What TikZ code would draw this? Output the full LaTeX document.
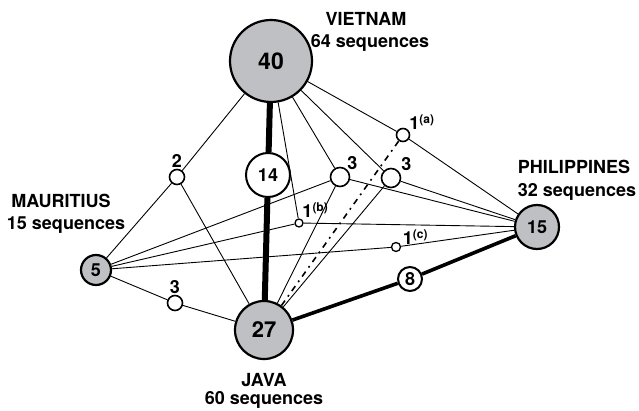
\documentclass[tikz,border=0pt]{standalone}
\usepackage{fontspec}
\setmainfont{TeX Gyre Heros}
\usepackage{tikz}
\usetikzlibrary{positioning}
\definecolor{nodegray}{RGB}{191,192,195}
\newcommand{\supnote}[1]{\raisebox{6pt}{\fontsize{12}{12}\selectfont(#1)}}

\begin{document}
\begin{tikzpicture}[x=1pt, y=1pt, node distance=9pt,
    every node/.style={inner sep=0pt, font=\bfseries},
    country/.style={draw, circle, line width=2.2pt, fill=nodegray},
    shared/.style={draw, circle, line width=2pt, fill=white},
    ring/.style={draw, circle, line width=1.6pt, fill=white},
    link/.style={line width=0.9pt},
    fat/.style={line width=6pt},
    bold link/.style={line width=3.6pt},
    dashdot/.style={line width=1.6pt, dash pattern=on 6pt off 5pt on 1.8pt off 5pt},
    caption/.style={font=\fontsize{18}{18}\selectfont\bfseries},
    tag/.style={font=\fontsize{18}{18}\selectfont\bfseries}]
        \useasboundingbox (0,0) rectangle (639,410);

        % Countries, with the number of haplotypes found only there
        \node (vietnam) [country, minimum size=82pt, font=\fontsize{23}{23}\selectfont\bfseries] at (271,349) {40};
        \node (java) [country, minimum size=58pt, font=\fontsize{22}{22}\selectfont\bfseries] at (264,80) {27};
        \node (mauritius) [country, minimum size=30pt, font=\fontsize{18}{18}\selectfont\bfseries] at (96,140) {5};
        \node (philippines) [country, minimum size=44pt, font=\fontsize{18}{18}\selectfont\bfseries] at (537,183) {15};

        \node (vnname) [caption] at (366,391) {VIETNAM};
        \node (vncount) [caption, below=of vnname, xshift=4pt] {64 sequences};
        \node (muname) [caption] at (61,209) {MAURITIUS};
        \node (mucount) [caption, below=of muname, xshift=5pt] {15 sequences};
        \node (phname) [caption] at (574,243) {PHILIPPINES};
        \node (phcount) [caption, below=of phname, xshift=3pt] {32 sequences};
        \node (jvname) [caption] at (264,30) {JAVA};
        \node (jvcount) [caption, below=4pt of jvname] {60 sequences};

        % Shared haplotypes
        \node (s14) [shared, minimum size=44pt, font=\fontsize{18}{18}\selectfont\bfseries] at (268,235) {14};
        \node (s8) [shared, minimum size=24pt, font=\fontsize{18}{18}\selectfont\bfseries] at (410,131) {8};
        \node (s2) [ring, minimum size=15pt] at (177,233) {};
        \node (s3a) [ring, minimum size=15pt] at (175,107) {};
        \node (s3b) [ring, minimum size=19pt] at (340,233) {};
        \node (s3c) [ring, minimum size=19pt] at (391,232) {};
        \node (s1a) [ring, minimum size=13pt] at (403,275) {};
        \node (s1b) [ring, minimum size=8pt, line width=1.3pt] at (299,187) {};
        \node (s1c) [ring, minimum size=9pt, line width=1.3pt] at (396,163) {};

        \node (t2) [tag, above=1pt of s2] {2};
        \node (t3a) [tag, above=1pt of s3a] {3};
        \node (t3b) [tag, above right=0pt of s3b] {3};
        \node (t3c) [tag, above right=0pt and 3pt of s3c] {3};
        \node (t1a) [tag, above right=0pt and 1pt of s1a] {1\supnote{a}};
        \node (t1b) [tag, above right=2pt and 0pt of s1b] {1\supnote{b}};
        \node (t1c) [tag, above right=-1pt and 3pt of s1c] {1\supnote{c}};

        % Links between countries through shared haplotypes
        \draw[link] (vietnam) -- (s2) -- (mauritius);
        \draw[link] (s2) -- (java);
        \draw[link] (mauritius) -- (s3a) -- (java);
        \draw[fat] (vietnam) -- (s14) -- (java);
        \draw[link] (vietnam) -- (s1b) -- (philippines);
        \draw[link] (mauritius) -- (s1b);
        \draw[link] (vietnam) -- (s3b) -- (philippines);
        \draw[link] (mauritius) -- (s3b) -- (java);
        \draw[link] (vietnam) -- (s3c) -- (philippines);
        \draw[link] (java) -- (s3c);
        \draw[link] (vietnam) -- (s1a) -- (philippines);
        \draw[dashdot] (java) -- (s1a);
        \draw[link] (mauritius) -- (s1c) -- (philippines);
        \draw[bold link] (java) -- (s8) -- (philippines);
\end{tikzpicture}
\end{document}
